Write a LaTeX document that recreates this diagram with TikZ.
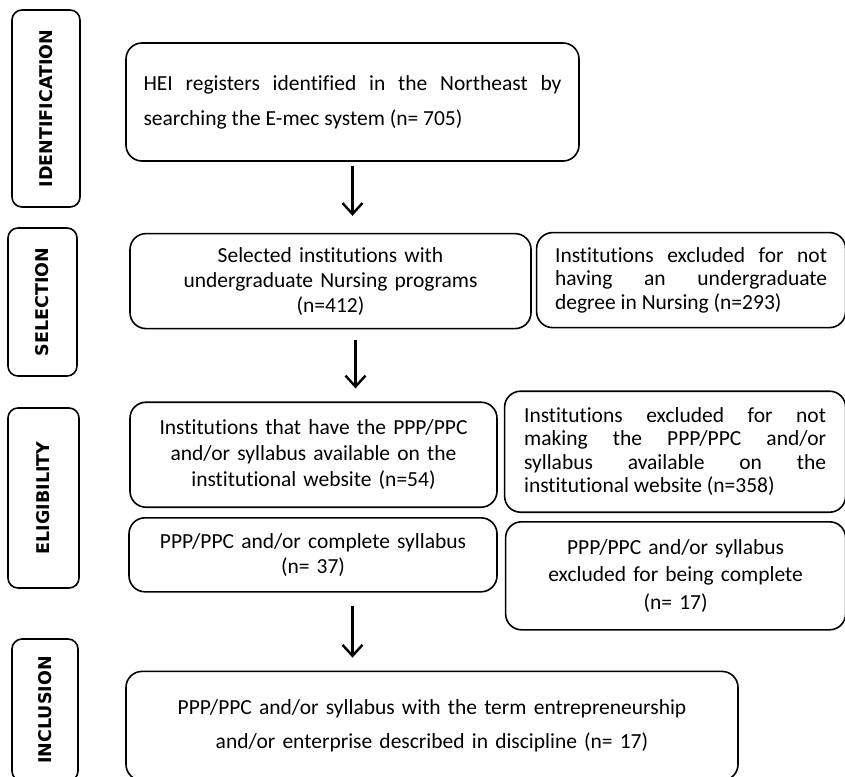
\documentclass[tikz,border=0pt]{standalone}
\usepackage{fontspec}
\setmainfont{Carlito}[Ligatures=NoCommon]
\newfontfamily\stagefont{DejaVu Sans}
\usepackage{tikz}
\usetikzlibrary{positioning,arrows.meta}
\tikzset{
  stage/.style={draw, rounded corners=10pt, line width=1.6pt, rotate=90, inner sep=0pt,
    font=\stagefont\bfseries\fontsize{17.5}{19}\selectfont},  % left stage labels
  box/.style={draw, rounded corners=16pt, line width=1.6pt, inner sep=0pt,
    font=\fontsize{21.5}{25}\selectfont},                     % flow boxes
  flow/.style={-{Straight Barb[length=11pt,width=20pt]}, line width=2.4pt}
}

\begin{document}
\begin{tikzpicture}[x=1pt,y=-1pt]
  \useasboundingbox (0,0) rectangle (845,776);

  % left column: stage labels
  \node (idt) [stage, minimum width=197pt, minimum height=68pt] at (46,108.5) {IDENTIFICATION};
  \node (slc) [stage, minimum width=148pt, minimum height=69pt] at (42.5,302) {SELECTION};
  \node (elg) [stage, minimum width=180pt, minimum height=71pt] at (43.5,498) {ELIGIBILITY};
  \node (inc) [stage, minimum width=142pt, minimum height=66pt] at (45,710) {INCLUSION};

  % main column
  \node (reg) [box, minimum width=453pt, minimum height=118pt, text width=418pt, align=justify,
    font=\fontsize{21.5}{35}\selectfont] at (352.5,102)
    {HEI registers identified in the Northeast by\linebreak searching the E-mec system (n= 705)};
  \node (sel) [box, minimum width=401pt, minimum height=95pt, text width=380pt, align=center,
    below=71pt of reg.south west, anchor=north west, xshift=4pt]
    {Selected institutions with\\ undergraduate Nursing programs\\ (n=412)};
  \node (avail) [box, minimum width=367pt, minimum height=105pt, text width=355pt, align=center,
    font=\fontsize{21.5}{26}\selectfont,
    below=72pt of sel.south west, anchor=north west]
    {Institutions that have the PPP/PPC\\ and/or syllabus available on the\\ institutional website (n=54)};
  \node (full) [box, minimum width=368pt, minimum height=74pt, text width=355pt, align=center,
    below=9pt of avail.south west, anchor=north west, xshift=-1pt]
    {PPP/PPC and/or complete syllabus\\ (n= 37)};
  \node (incl) [box, minimum width=612pt, minimum height=109pt, text width=590pt, align=center,
    font=\fontsize{21.5}{34}\selectfont,
    below=78pt of full.south west, anchor=north west, xshift=-3pt]
    {PPP/PPC and/or syllabus with the term entrepreneurship\\ and/or enterprise described in discipline (n= 17)};

  % right column: exclusions
  \node (nocourse) [box, minimum width=309pt, minimum height=95pt, text width=272pt, align=justify,
    font=\fontsize{21.5}{23.5}\selectfont,
    right=4pt of sel.north east, anchor=north west, yshift=1pt]
    {Institutions excluded for not\linebreak having an undergraduate\linebreak degree in Nursing (n=293)};
  \node (nosite) [box, minimum width=341pt, minimum height=121pt, text width=302pt, align=justify,
    font=\fontsize{21.5}{23.5}\selectfont,
    right=6pt of avail.north east, anchor=north west, yshift=11pt]
    {Institutions excluded for not\linebreak making the PPP/PPC and/or\linebreak syllabus available on the\linebreak institutional website (n=358)};
  \node (dropped) [box, minimum width=340pt, minimum height=108pt, text width=320pt, align=center,
    font=\fontsize{21.5}{27.5}\selectfont,
    below=8pt of nosite.south west, anchor=north west, xshift=1pt]
    {PPP/PPC and/or syllabus\\ excluded for being complete\\ (n= 17)};

  % arrows
  \draw[flow, shorten <=4pt, shorten >=17pt] (reg.south) -- (reg.south |- sel.north);
  \draw[flow, shorten <=11pt, shorten >=13pt] ([xshift=3pt]reg.south |- sel.south) -- ([xshift=3pt]reg.south |- avail.north);
  \draw[flow, shorten <=13pt, shorten >=13pt] (reg.south |- full.south) -- (reg.south |- incl.north);
\end{tikzpicture}
\end{document}
